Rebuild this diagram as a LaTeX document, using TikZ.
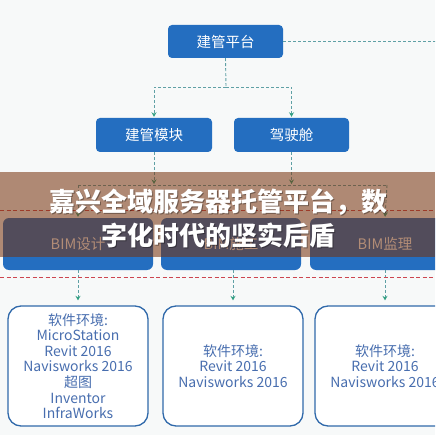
\documentclass[tikz,border=0pt]{standalone}
\usepackage{fontspec}
\newfontfamily\cjk{Noto Sans CJK SC}
\usetikzlibrary{arrows.meta}
\definecolor{bgc}{RGB}{247,249,249}
\definecolor{nodeblue}{RGB}{36,110,192}
\definecolor{dashteal}{RGB}{95,160,165}
\definecolor{tipgreen}{RGB}{50,160,130}
\definecolor{dashred}{RGB}{205,70,80}
\definecolor{boxline}{RGB}{48,105,170}
\definecolor{swtext}{RGB}{72,110,175}
\definecolor{bannerc}{RGB}{119,51,12}
\tikzset{
  bluebox/.style={fill=nodeblue, rounded corners=4pt, inner sep=0pt, text=white,
    font=\cjk\fontsize{14.5}{16}\selectfont},
  bimbox/.style={fill=nodeblue, rounded corners=6pt, inner sep=0pt, text=white,
    minimum height=52pt, font=\cjk\fontsize{14.5}{16}\selectfont},
  swbox/.style={draw=boxline, line width=1.3pt, fill=white, rounded corners=13pt,
    inner sep=0pt, minimum width=140pt, minimum height=120pt, text=swtext, align=center,
    font=\cjk\fontsize{14}{15.6}\selectfont},
  dl/.style={draw=dashteal, line width=0.9pt, dash pattern=on 3pt off 2pt},
  dlarrow/.style={dl, -{Stealth[length=4.5pt,width=5pt,fill=tipgreen,color=tipgreen]}, shorten >=1pt},
  reddash/.style={draw=dashred, line width=0.9pt, dash pattern=on 4pt off 2.5pt},
  bannertext/.style={text=white, font=\cjk\bfseries\fontsize{26}{28}\selectfont, inner sep=0pt},
  bannershadow/.style={text=black, text opacity=0.35, font=\cjk\bfseries\fontsize{26}{28}\selectfont, inner sep=0pt}
}
\begin{document}
\begin{tikzpicture}[x=1pt,y=-1pt]
\useasboundingbox (0,0) rectangle (435,435);
\clip (0,0) rectangle (435,435);
\fill[bgc] (0,0) rectangle (435,435);

% top level
\node[bluebox, minimum width=115pt, minimum height=33pt] (top) at (225.5,41.5) {建管平台};
\node[bluebox, minimum width=116pt, minimum height=34pt] (jm) at (154,135) {建管模块};
\node[bluebox, minimum width=115pt, minimum height=34pt] (jsc) at (291.5,135) {驾驶舱};

\coordinate (rend) at (436,41.5);
\coordinate (j1) at (226,87);
\draw[dl] (top.east) -- (rend);
\draw[dl] (top.south) -- (j1);
\draw[dlarrow] (j1) -| (jm.north);
\draw[dlarrow] (j1) -| (jsc.north);

% second level connectors
\coordinate (h1) at (78,185);
\coordinate (h2) at (387,185);
\draw[dlarrow] (jm.south) -- (jm.south |- h1);
\draw[dlarrow] (jsc.south) -- (jsc.south |- h1);
\draw[dl] (h1) -- (h2);

% BIM boxes
\node[bimbox, minimum width=150pt] (bim1) at (78,244) {BIM设计};
\node[bimbox, minimum width=140pt] (bim2) at (231,244) {BIM施工};
\node[bimbox, minimum width=150pt] (bim3) at (385,244) {BIM监理};

\draw[dlarrow] (h1) -- (bim1.north);
\draw[dlarrow] (h2) -- (bim3.north);

\coordinate (r1a) at (0,210);
\coordinate (r1b) at (435,210);
\draw[reddash] (r1a) -- (r1b);

% software boxes
\node[swbox] (sw1) at (78,366) {软件环境:\\MicroStation\\Revit 2016\\Navisworks 2016\\超图\\Inventor\\InfraWorks};
\node[swbox] (sw2) at (233,366) {软件环境:\\Revit 2016\\Navisworks 2016};
\node[swbox] (sw3) at (385,366) {软件环境:\\Revit 2016\\Navisworks 2016};

\coordinate (r2a) at (0,277);
\coordinate (r2b) at (435,277);
\draw[dlarrow, shorten >=5pt] (bim1.south) -- (sw1.north);
\draw[dlarrow, shorten >=5pt] (bim2.south -| sw2.north) -- (sw2.north);
\draw[dlarrow, shorten >=5pt] (bim3.south) -- (sw3.north);
\draw[reddash] (r2a) -- (r2b);

% banner
\fill[bannerc, fill opacity=0.56] (0,172) rectangle (435,257);
\node[bannershadow] at (219,203) {嘉兴全域服务器托管平台，数};
\node[bannershadow] at (219,236) {字化时代的坚实后盾};
\node[bannertext] (b1) at (218,202) {嘉兴全域服务器托管平台，数};
\node[bannertext] (b2) at (218,235) {字化时代的坚实后盾};
\end{tikzpicture}
\end{document}
